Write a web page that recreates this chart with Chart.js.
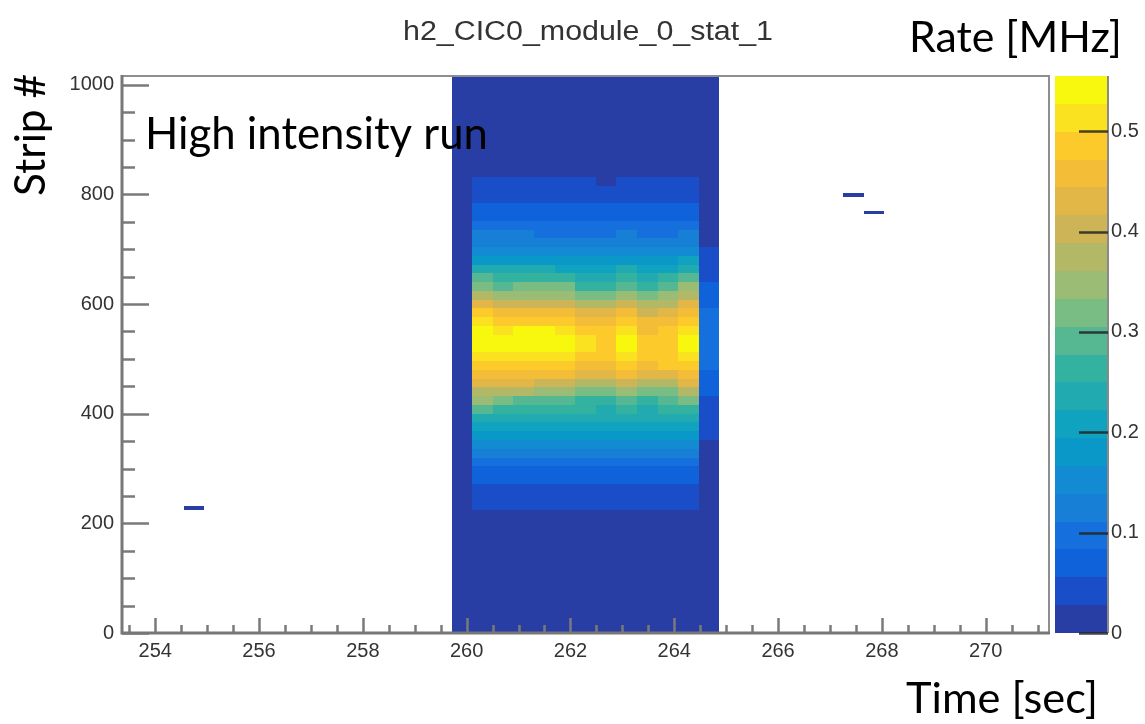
<!DOCTYPE html>
<html>
<head>
<meta charset="utf-8">
<title>h2_CIC0_module_0_stat_1</title>
<script src="https://cdn.jsdelivr.net/npm/chart.js@4.4.1/dist/chart.umd.min.js"></script>
<style>
  html, body { margin: 0; padding: 0; background: #ffffff; }
  #wrap { width: 1145px; height: 724px; }
</style>
</head>
<body>
<div id="wrap"><canvas id="map" width="1145" height="724"></canvas></div>
<script>
// ---- Histogram binning ----------------------------------------------------
const timeRange = [253.36, 271.22];   // sec
const timeBinCount = 45;
const stripRange = [0, 1016];
const rateRange = [0, 0.555];         // MHz, colour axis
const rateLevels = 20;

// ---- Tick labels ----------------------------------------------------------
const timeTicks = [254, 256, 258, 260, 262, 264, 266, 268, 270];
const stripTicks = [0, 200, 400, 600, 800, 1000];
const rateTicks = [0, 0.1, 0.2, 0.3, 0.4, 0.5];

// ---- Beam spill: time bins and their noise floor over all strips ---------
const beamBins = [16, 17, 18, 19, 20, 21, 22, 23, 24, 25, 26, 27, 28];
const beamNoise = [0.01, 0.01, 0.01, 0.01, 0.01, 0.01, 0.01, 0.01, 0.01, 0.01, 0.01, 0.01, 0.01];

// Strip profiles (MHz), 16-strip groups starting at strip 224, bottom to top
const profileStripStart = 224;
const profileStripGroup = 16;
const profileBins = [17, 18, 19, 20, 21, 22, 23, 24, 25, 26, 27, 28];
const rateBin17 = [0.04,0.04,0.04,0.07,0.07,0.10,0.12,0.15,0.18,0.21,0.24,0.29,0.35,0.37,0.43,0.46,0.49,0.51,0.54,0.54,0.54,0.51,0.49,0.43,0.37,0.32,0.29,0.24,0.18,0.15,0.12,0.12,0.10,0.07,0.07,0.04,0.04,0.04];
const rateBin18 = [0.04,0.04,0.04,0.07,0.07,0.10,0.12,0.15,0.18,0.21,0.24,0.26,0.32,0.37,0.43,0.46,0.49,0.51,0.54,0.54,0.51,0.49,0.46,0.40,0.35,0.29,0.26,0.24,0.18,0.15,0.12,0.12,0.10,0.07,0.07,0.04,0.04,0.04];
const rateBin19 = [0.04,0.04,0.04,0.07,0.07,0.10,0.12,0.15,0.18,0.21,0.24,0.26,0.29,0.37,0.43,0.46,0.49,0.51,0.54,0.54,0.54,0.49,0.46,0.40,0.35,0.32,0.26,0.24,0.18,0.15,0.12,0.12,0.10,0.07,0.07,0.04,0.04,0.04];
const rateBin20 = [0.04,0.04,0.04,0.07,0.07,0.10,0.12,0.15,0.18,0.21,0.24,0.26,0.29,0.35,0.40,0.46,0.49,0.51,0.54,0.54,0.54,0.49,0.46,0.40,0.35,0.32,0.26,0.24,0.18,0.15,0.12,0.10,0.10,0.07,0.07,0.04,0.04,0.04];
const rateBin21 = [0.04,0.04,0.04,0.07,0.07,0.10,0.12,0.15,0.18,0.21,0.24,0.26,0.29,0.35,0.40,0.46,0.49,0.51,0.54,0.54,0.51,0.49,0.46,0.40,0.35,0.32,0.26,0.21,0.18,0.15,0.12,0.10,0.10,0.07,0.07,0.04,0.04,0.04];
const rateBin22 = [0.04,0.04,0.04,0.07,0.07,0.10,0.12,0.15,0.18,0.21,0.24,0.26,0.26,0.32,0.37,0.43,0.46,0.49,0.51,0.51,0.49,0.46,0.43,0.37,0.32,0.26,0.24,0.21,0.18,0.15,0.12,0.10,0.10,0.07,0.07,0.04,0.04,0.04];
const rateBin23 = [0.04,0.04,0.04,0.07,0.07,0.10,0.12,0.15,0.18,0.21,0.24,0.24,0.26,0.32,0.37,0.43,0.46,0.49,0.49,0.49,0.49,0.46,0.43,0.37,0.32,0.26,0.24,0.21,0.18,0.15,0.12,0.10,0.10,0.07,0.07,0.04,0.04,0.01];
const rateBin24 = [0.04,0.04,0.04,0.07,0.07,0.10,0.12,0.15,0.18,0.21,0.24,0.26,0.29,0.35,0.40,0.46,0.49,0.51,0.54,0.54,0.51,0.49,0.46,0.40,0.35,0.29,0.26,0.24,0.18,0.15,0.12,0.12,0.10,0.07,0.07,0.04,0.04,0.04];
const rateBin25 = [0.04,0.04,0.04,0.07,0.07,0.10,0.12,0.15,0.18,0.21,0.24,0.24,0.26,0.32,0.37,0.43,0.46,0.49,0.49,0.49,0.46,0.46,0.40,0.37,0.32,0.26,0.24,0.21,0.18,0.15,0.12,0.10,0.10,0.07,0.07,0.04,0.04,0.04];
const rateBin26 = [0.04,0.04,0.04,0.07,0.07,0.10,0.12,0.15,0.18,0.21,0.24,0.26,0.29,0.32,0.37,0.43,0.49,0.49,0.49,0.49,0.49,0.46,0.43,0.37,0.35,0.29,0.26,0.21,0.18,0.15,0.12,0.10,0.10,0.07,0.07,0.04,0.04,0.04];
const rateBin27 = [0.04,0.04,0.04,0.07,0.07,0.10,0.12,0.15,0.18,0.21,0.24,0.26,0.32,0.37,0.43,0.46,0.49,0.51,0.54,0.54,0.51,0.49,0.46,0.43,0.37,0.35,0.29,0.24,0.21,0.15,0.12,0.12,0.10,0.07,0.07,0.04,0.04,0.04];
const rateBin28 = [0.01,0.01,0.01,0.01,0.01,0.01,0.01,0.01,0.04,0.04,0.04,0.04,0.04,0.07,0.07,0.07,0.10,0.10,0.10,0.10,0.10,0.10,0.10,0.07,0.07,0.07,0.04,0.04,0.04,0.04,0.01,0.01,0.01,0.01,0.01,0.01,0.01,0.01];
const profiles = [rateBin17, rateBin18, rateBin19, rateBin20, rateBin21, rateBin22,
                  rateBin23, rateBin24, rateBin25, rateBin26, rateBin27, rateBin28];

// ---- Isolated hits outside the spill --------------------------------------
const hitBins = [3, 35, 36];
const hitStripLo = [224, 796, 764];
const hitStripHi = [232, 802, 770];
const hitRates = [0.01, 0.01, 0.01];

// ---- Colour levels of the rate axis, lowest first ------------------------
const levelColours = [
  '#283ea5', '#1a4dc8', '#0f62da', '#1570dd', '#177fd6',
  '#138bd3', '#0a98c9', '#10a3c0', '#21aaaf', '#33b2a0',
  '#55b893', '#7abd84', '#9abc75', '#b3b866', '#cdb457',
  '#e2b748', '#f4bd38', '#fdca2b', '#fbe220', '#f8f80f'
];

const tickFont = '"Liberation Sans", Arial, Helvetica, sans-serif';
const labelFont = 'Lato, "Open Sans", sans-serif';

function timeEdges(bin) {
  const w = (timeRange[1] - timeRange[0]) / timeBinCount;
  return [timeRange[0] + bin * w, timeRange[0] + (bin + 1) * w];
}

function colourFor(rate) {
  const step = (rateRange[1] - rateRange[0]) / rateLevels;
  const k = Math.floor((rate - rateRange[0]) / step);
  return levelColours[Math.max(0, Math.min(rateLevels - 1, k))];
}

function fillCell(chart, bin, s0, s1, rate) {
  const { ctx, scales: { x, y } } = chart;
  const [t0, t1] = timeEdges(bin);
  const px0 = Math.round(x.getPixelForValue(t0));
  const px1 = Math.round(x.getPixelForValue(t1));
  const py0 = Math.round(y.getPixelForValue(s1));
  const py1 = Math.round(y.getPixelForValue(s0));
  ctx.fillStyle = colourFor(rate);
  ctx.fillRect(px0, py0, px1 - px0, py1 - py0);
}

// COLZ-style cells
const heatmapPlugin = {
  id: 'heatmap',
  beforeDatasetsDraw(chart) {
    const { ctx, chartArea: a } = chart;
    ctx.save();
    ctx.beginPath();
    ctx.rect(a.left, a.top, a.right - a.left, a.bottom - a.top);
    ctx.clip();
    beamBins.forEach((bin, j) => fillCell(chart, bin, stripRange[0], stripRange[1], beamNoise[j]));
    profileBins.forEach((bin, j) => {
      profiles[j].forEach((rate, i) => {
        const s0 = profileStripStart + i * profileStripGroup;
        fillCell(chart, bin, s0, s0 + profileStripGroup, rate);
      });
    });
    hitBins.forEach((bin, j) => fillCell(chart, bin, hitStripLo[j], hitStripHi[j], hitRates[j]));
    ctx.restore();
  }
};

function fitText(ctx, text, family, targetWidth) {
  ctx.font = '40px ' + family;
  const w = ctx.measureText(text).width;
  const size = 40 * targetWidth / w;
  ctx.font = size.toFixed(2) + 'px ' + family;
}

// Frame, inward ticks, colour bar and labels
const framePlugin = {
  id: 'frame',
  afterDraw(chart) {
    const { ctx, chartArea: a, scales: { x, y, z } } = chart;
    ctx.save();

    // ticks on the strip axis
    ctx.strokeStyle = '#7a7a7a';
    ctx.lineWidth = 2.5;
    ctx.beginPath();
    for (let v = stripRange[0]; v <= stripRange[1]; v += 50) {
      const py = Math.round(y.getPixelForValue(v)) + 0.5;
      const len = stripTicks.includes(v) ? 27 : 13;
      ctx.moveTo(a.left, py);
      ctx.lineTo(a.left + len, py);
    }
    // ticks on the time axis
    for (let v = Math.ceil(timeRange[0] * 2) / 2; v <= timeRange[1]; v += 0.5) {
      const px = Math.round(x.getPixelForValue(v)) + 0.5;
      const len = timeTicks.includes(v) ? 15 : 8;
      ctx.moveTo(px, a.bottom);
      ctx.lineTo(px, a.bottom - len);
    }
    ctx.stroke();

    // frame
    ctx.strokeStyle = '#8e8e8e';
    ctx.lineWidth = 2;
    ctx.beginPath();
    ctx.moveTo(a.left, a.top);
    ctx.lineTo(a.right, a.top);
    ctx.lineTo(a.right, a.bottom);
    ctx.stroke();
    ctx.strokeStyle = '#777777';
    ctx.lineWidth = 3;
    ctx.beginPath();
    ctx.moveTo(a.left, a.top - 1);
    ctx.lineTo(a.left, a.bottom);
    ctx.lineTo(a.right + 1, a.bottom);
    ctx.stroke();

    // colour bar
    const cbL = a.right + 6, cbR = a.right + 58;
    const step = (rateRange[1] - rateRange[0]) / rateLevels;
    for (let k = 0; k < rateLevels; k++) {
      const y0 = Math.round(z.getPixelForValue(rateRange[0] + k * step));
      const y1 = Math.round(z.getPixelForValue(rateRange[0] + (k + 1) * step));
      ctx.fillStyle = levelColours[k];
      ctx.fillRect(cbL, y1, cbR - cbL, y0 - y1);
    }
    ctx.strokeStyle = '#8a8a8a';
    ctx.lineWidth = 2;
    ctx.beginPath();
    ctx.moveTo(cbR + 1, z.top);
    ctx.lineTo(cbR + 1, z.bottom);
    ctx.stroke();
    ctx.strokeStyle = 'rgba(35,35,35,0.85)';
    ctx.lineWidth = 2.5;
    ctx.beginPath();
    rateTicks.forEach(v => {
      const py = Math.round(z.getPixelForValue(v)) + 0.5;
      ctx.moveTo(cbR - 28, py);
      ctx.lineTo(cbR + 1, py);
    });
    ctx.stroke();

    // title, slightly wide like the other axis text
    ctx.save();
    ctx.fillStyle = '#333333';
    ctx.font = '27px ' + tickFont;
    ctx.textAlign = 'center';
    ctx.textBaseline = 'middle';
    const titleText = 'h2_CIC0_module_0_stat_1';
    const sx = 370 / ctx.measureText(titleText).width;
    ctx.translate(588, 33);
    ctx.scale(sx, 1);
    ctx.fillText(titleText, 0, 0);
    ctx.restore();

    // annotations
    ctx.fillStyle = '#000000';
    ctx.textAlign = 'left';
    ctx.textBaseline = 'alphabetic';
    fitText(ctx, 'High intensity run', labelFont, 343);
    ctx.fillText('High intensity run', 145, 149);
    fitText(ctx, 'Rate [MHz]', labelFont, 213);
    ctx.fillText('Rate [MHz]', 909, 52);
    fitText(ctx, 'Time [sec]', labelFont, 192);
    ctx.fillText('Time [sec]', 906, 713);
    ctx.save();
    ctx.translate(45, 196);
    ctx.rotate(-Math.PI / 2);
    fitText(ctx, 'Strip #', labelFont, 122);
    ctx.fillText('Strip #', 0, 0);
    ctx.restore();

    ctx.restore();
  }
};

const tickStyle = { color: '#333333', font: { family: tickFont, size: 20 } };

new Chart(document.getElementById('map'), {
  type: 'scatter',
  data: { datasets: [] },
  options: {
    responsive: false,
    animation: false,
    events: [],
    layout: { padding: { top: 76, left: 0, right: 0, bottom: 0 } },
    plugins: { legend: { display: false }, tooltip: { enabled: false }, title: { display: false } },
    scales: {
      x: {
        type: 'linear', position: 'bottom',
        min: timeRange[0], max: timeRange[1],
        afterBuildTicks: s => { s.ticks = timeTicks.map(v => ({ value: v })); },
        afterFit: s => { s.height = 91; },
        grid: { display: false, drawTicks: false },
        border: { display: false },
        ticks: Object.assign({ padding: 6, maxRotation: 0, autoSkip: false, callback: v => String(v) }, tickStyle)
      },
      y: {
        type: 'linear', position: 'left',
        min: stripRange[0], max: stripRange[1],
        afterBuildTicks: s => { s.ticks = stripTicks.map(v => ({ value: v })); },
        afterFit: s => { s.width = 122; },
        grid: { display: false, drawTicks: false },
        border: { display: false },
        ticks: Object.assign({ padding: 8, autoSkip: false, callback: v => String(v) }, tickStyle)
      },
      z: {
        axis: 'y', type: 'linear', position: 'right',
        min: rateRange[0], max: rateRange[1],
        afterBuildTicks: s => { s.ticks = rateTicks.map(v => ({ value: v })); },
        afterFit: s => { s.width = 96; },
        grid: { display: false, drawTicks: false },
        border: { display: false },
        ticks: Object.assign({ padding: 62, autoSkip: false, callback: v => (v === 0 ? '0' : v.toFixed(1)) }, tickStyle)
      }
    }
  },
  plugins: [heatmapPlugin, framePlugin]
});
</script>
</body>
</html>
